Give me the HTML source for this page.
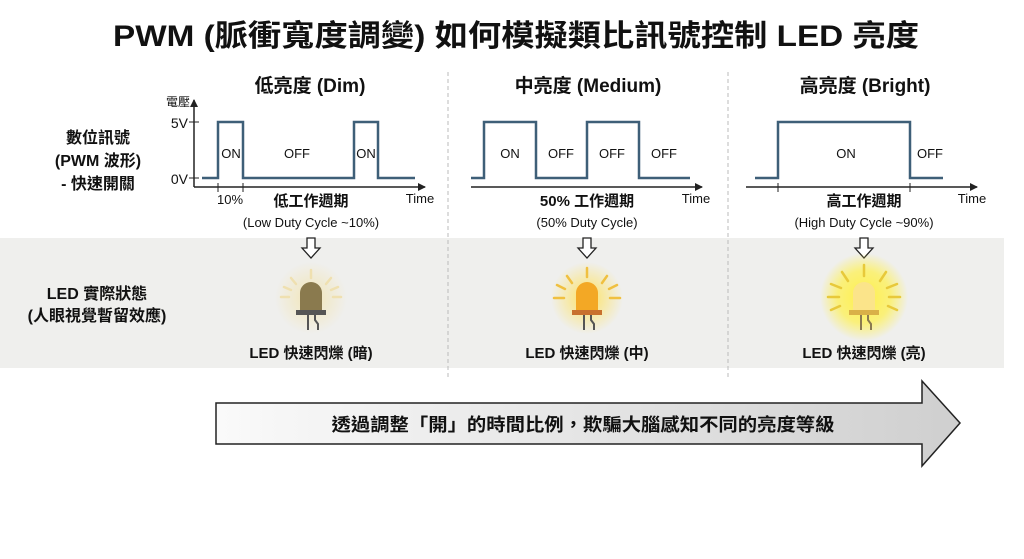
<!DOCTYPE html>
<html><head><meta charset="utf-8"><style>
html,body{margin:0;padding:0;background:#fff;width:1024px;height:559px;overflow:hidden}
svg text{font-family:"Liberation Sans","Noto Sans CJK TC",sans-serif;fill:#111}
.b{font-weight:bold}
</style></head><body>
<svg width="1024" height="559" viewBox="0 0 1024 559" xmlns="http://www.w3.org/2000/svg">
<defs>
<linearGradient id="ag" x1="0" x2="1" y1="0" y2="0"><stop offset="0" stop-color="#fafafa"/><stop offset="1" stop-color="#cfcfcf"/></linearGradient>
<radialGradient id="g1"><stop offset="0" stop-color="#f3e3a8" stop-opacity=".8"/><stop offset="1" stop-color="#f3e3a8" stop-opacity="0"/></radialGradient>
<radialGradient id="g2"><stop offset="0" stop-color="#ffe25a" stop-opacity=".95"/><stop offset="1" stop-color="#ffe25a" stop-opacity="0"/></radialGradient>
<radialGradient id="g3"><stop offset="0" stop-color="#fff04a"/><stop offset=".6" stop-color="#fff04a" stop-opacity=".7"/><stop offset="1" stop-color="#fff04a" stop-opacity="0"/></radialGradient>
<marker id="ah" markerWidth="8" markerHeight="8" refX="7" refY="4" orient="auto" markerUnits="userSpaceOnUse"><path d="M0,0 L8,4 L0,8 z" fill="#222"/></marker>
</defs>
<rect x="0" y="238" width="1004" height="130" fill="#efefed"/>
<line x1="448" y1="72" x2="448" y2="378" stroke="#bbb" stroke-dasharray="4,3"/>
<line x1="728" y1="72" x2="728" y2="378" stroke="#bbb" stroke-dasharray="4,3"/>

<text x="516" y="46" class="b" font-size="30" text-anchor="middle" textLength="806" lengthAdjust="spacingAndGlyphs">PWM (脈衝寬度調變) 如何模擬類比訊號控制 LED 亮度</text>

<text x="310" y="92" class="b" font-size="19" text-anchor="middle">低亮度 (Dim)</text>
<text x="588" y="92" class="b" font-size="19" text-anchor="middle">中亮度 (Medium)</text>
<text x="865" y="92" class="b" font-size="19" text-anchor="middle">高亮度 (Bright)</text>

<g class="b" font-size="16" text-anchor="middle">
<text x="98" y="143">數位訊號</text><text x="98" y="166">(PWM 波形)</text><text x="98" y="189">- 快速開關</text>
<text x="97" y="299">LED 實際狀態</text><text x="97" y="321">(人眼視覺暫留效應)</text>
</g>

<!-- Dim -->
<line x1="194" y1="187" x2="194" y2="100" stroke="#222" stroke-width="1.5" marker-end="url(#ah)"/>
<line x1="194" y1="187" x2="425" y2="187" stroke="#222" stroke-width="1.5" marker-end="url(#ah)"/>
<line x1="189" y1="122" x2="199" y2="122" stroke="#222"/><line x1="189" y1="178" x2="199" y2="178" stroke="#222"/>
<line x1="218" y1="183" x2="218" y2="192" stroke="#222"/><line x1="243" y1="183" x2="243" y2="192" stroke="#222"/>
<text x="190" y="106" font-size="12" text-anchor="end">電壓</text>
<text x="188" y="128" font-size="14" text-anchor="end">5V</text>
<text x="188" y="184" font-size="14" text-anchor="end">0V</text>
<polyline points="202,178 218,178 218,122 243,122 243,178 354,178 354,122 378,122 378,178 415,178" fill="none" stroke="#3e5f78" stroke-width="2.5"/>
<text x="231" y="158" font-size="13" text-anchor="middle">ON</text>
<text x="297" y="158" font-size="13" text-anchor="middle">OFF</text>
<text x="366" y="158" font-size="13" text-anchor="middle">ON</text>
<text x="230" y="204" font-size="13" text-anchor="middle">10%</text>
<text x="420" y="203" font-size="13" text-anchor="middle">Time</text>
<text x="311" y="206" class="b" font-size="15" text-anchor="middle">低工作週期</text>
<text x="311" y="227" font-size="13" text-anchor="middle">(Low Duty Cycle ~10%)</text>

<!-- Medium -->
<line x1="471" y1="187" x2="702" y2="187" stroke="#222" stroke-width="1.5" marker-end="url(#ah)"/>
<polyline points="471,178 484,178 484,122 536,122 536,178 587,178 587,122 639,122 639,178 690,178" fill="none" stroke="#3e5f78" stroke-width="2.5"/>
<text x="510" y="158" font-size="13" text-anchor="middle">ON</text>
<text x="561" y="158" font-size="13" text-anchor="middle">OFF</text>
<text x="612" y="158" font-size="13" text-anchor="middle">OFF</text>
<text x="664" y="158" font-size="13" text-anchor="middle">OFF</text>
<text x="696" y="203" font-size="13" text-anchor="middle">Time</text>
<text x="587" y="206" class="b" font-size="15" text-anchor="middle">50% 工作週期</text>
<text x="587" y="227" font-size="13" text-anchor="middle">(50% Duty Cycle)</text>

<!-- Bright -->
<line x1="746" y1="187" x2="977" y2="187" stroke="#222" stroke-width="1.5" marker-end="url(#ah)"/>
<line x1="778" y1="183" x2="778" y2="192" stroke="#222"/><line x1="910" y1="183" x2="910" y2="192" stroke="#222"/>
<polyline points="755,178 778,178 778,122 910,122 910,178 943,178" fill="none" stroke="#3e5f78" stroke-width="2.5"/>
<text x="846" y="158" font-size="13" text-anchor="middle">ON</text>
<text x="930" y="158" font-size="13" text-anchor="middle">OFF</text>
<text x="972" y="203" font-size="13" text-anchor="middle">Time</text>
<text x="864" y="206" class="b" font-size="15" text-anchor="middle">高工作週期</text>
<text x="864" y="227" font-size="13" text-anchor="middle">(High Duty Cycle ~90%)</text>

<!-- down arrows -->
<g fill="#fff" stroke="#222" stroke-width="1.3">
<path d="M307,238 h8 v10 h5 l-9,10 l-9,-10 h5 z"/>
<path d="M583,238 h8 v10 h5 l-9,10 l-9,-10 h5 z"/>
<path d="M860,238 h8 v10 h5 l-9,10 l-9,-10 h5 z"/>
</g>

<!-- LEDs -->
<g transform="translate(311,0)">
<circle cx="0" cy="298" r="36" fill="url(#g1)"/>
<g stroke="#efe0b0" stroke-width="2.5" stroke-linecap="round"><line x1="0" y1="270" x2="0" y2="278"/><line x1="-20" y1="278" x2="-15" y2="284"/><line x1="20" y1="278" x2="15" y2="284"/><line x1="-30" y1="297" x2="-22" y2="297"/><line x1="30" y1="297" x2="22" y2="297"/><line x1="-27" y1="287" x2="-20" y2="290"/><line x1="27" y1="287" x2="20" y2="290"/></g>
<path d="M-11,310 v-17 a11,11 0 0 1 22,0 v17 z" fill="#8a7a4e"/>
<rect x="-15" y="310" width="30" height="5" fill="#555"/>
<path d="M-3,315 v15 M4,315 v5 l3,4 v6" stroke="#555" stroke-width="2" fill="none"/>
</g>
<g transform="translate(587,0)">
<circle cx="0" cy="298" r="36" fill="url(#g2)"/>
<g stroke="#f0c040" stroke-width="2.5" stroke-linecap="round"><line x1="0" y1="268" x2="0" y2="277"/><line x1="-20" y1="276" x2="-15" y2="283"/><line x1="20" y1="276" x2="15" y2="283"/><line x1="-33" y1="298" x2="-23" y2="298"/><line x1="33" y1="298" x2="23" y2="298"/><line x1="-30" y1="285" x2="-22" y2="289"/><line x1="30" y1="285" x2="22" y2="289"/></g>
<path d="M-11,310 v-17 a11,11 0 0 1 22,0 v17 z" fill="#f3a825"/>
<rect x="-15" y="310" width="30" height="5" fill="#c8702e"/>
<path d="M-3,315 v15 M4,315 v5 l3,4 v6" stroke="#555" stroke-width="2" fill="none"/>
</g>
<g transform="translate(864,0)">
<circle cx="0" cy="297" r="44" fill="url(#g3)"/>
<g stroke="#e8c93a" stroke-width="2.5" stroke-linecap="round"><line x1="0" y1="265" x2="0" y2="276"/><line x1="-22" y1="272" x2="-16" y2="281"/><line x1="22" y1="272" x2="16" y2="281"/><line x1="-36" y1="297" x2="-25" y2="297"/><line x1="36" y1="297" x2="25" y2="297"/><line x1="-33" y1="284" x2="-23" y2="288"/><line x1="33" y1="284" x2="23" y2="288"/><line x1="-33" y1="310" x2="-24" y2="306"/><line x1="33" y1="310" x2="24" y2="306"/></g>
<path d="M-11,310 v-17 a11,11 0 0 1 22,0 v17 z" fill="#fbe48a"/>
<rect x="-15" y="310" width="30" height="5" fill="#d9b048"/>
<path d="M-3,315 v15 M4,315 v5 l3,4 v6" stroke="#8a7a50" stroke-width="2" fill="none"/>
</g>

<g class="b" font-size="15" text-anchor="middle">
<text x="311" y="358">LED 快速閃爍 (暗)</text>
<text x="587" y="358">LED 快速閃爍 (中)</text>
<text x="864" y="358">LED 快速閃爍 (亮)</text>
</g>

<!-- big arrow -->
<path d="M216,403 H922 V381 L960,423 L922,466 V444 H216 Z" fill="url(#ag)" stroke="#222" stroke-width="1.5"/>
<text x="583" y="431" class="b" font-size="18" text-anchor="middle" textLength="503" lengthAdjust="spacingAndGlyphs">透過調整「開」的時間比例，欺騙大腦感知不同的亮度等級</text>
</svg>
</body></html>
